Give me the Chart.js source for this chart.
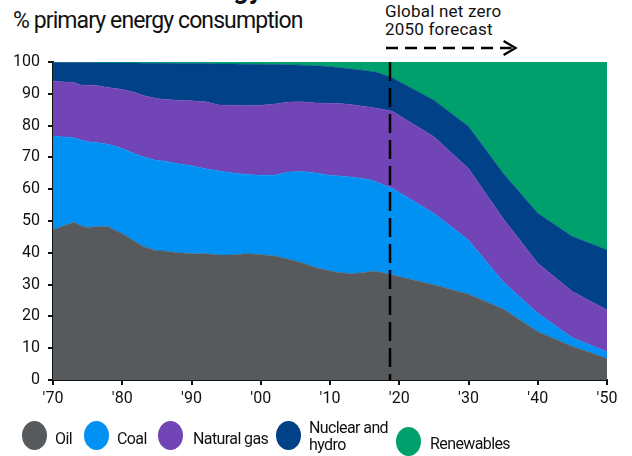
<!DOCTYPE html>
<html>
<head>
<meta charset="utf-8">
<script src="https://cdn.jsdelivr.net/npm/chart.js@4.4.0/dist/chart.umd.min.js"></script>
<style>
  body { margin: 0; width: 632px; height: 456px; overflow: hidden; background: #fff; position: relative;
         font-family: Roboto, sans-serif; color: #111; }
  #chart { position: absolute; left: 0; top: 0; }
  .title { position: absolute; left: 95px; top: -27px; font-weight: bold; font-size: 27px; white-space: nowrap; }
  .sub { position: absolute; left: 13px; top: 7px; font-size: 23px; white-space: nowrap; letter-spacing: -0.9px; }
  .note { position: absolute; left: 385px; top: 2px; font-size: 17px; line-height: 18px; white-space: nowrap; letter-spacing: 0.2px; }
  .leg { position: absolute; font-size: 16px; line-height: 17px; white-space: nowrap; letter-spacing: -0.6px; }
  .dot { position: absolute; width: 25px; height: 29px; border-radius: 50%; }
</style>
</head>
<body>
<div class="title">Global energy</div>
<div class="sub">% primary energy consumption</div>
<div class="note">Global net zero<br>2050 forecast</div>
<canvas id="chart" width="632" height="456"></canvas>
<div id="legend"></div>
<script>
// años (histórico anual aproximado + previsión cada 5 años)
const years = [1970, 1971, 1973, 1974, 1975, 1976, 1978, 1979, 1980, 1982, 1983, 1985, 1986, 1988, 1990,
  1992, 1994, 1996, 1998, 2000, 2002, 2004, 2006, 2008, 2010, 2011, 2013, 2015, 2016, 2017, 2019,
  2025, 2030, 2035, 2040, 2045, 2050];

// % del consumo de energía primaria
const oil = [47.2, 48.0, 49.6, 48.5, 47.9, 48.2, 48.2, 47.0, 46.0, 43.3, 42.0, 40.6, 40.6, 40.0, 39.7,
  39.7, 39.3, 39.3, 39.7, 39.4, 39.0, 38.0, 36.8, 35.3, 34.3, 33.9, 33.4, 33.8, 34.2, 34.0, 33.0,
  29.9, 27.0, 22.3, 15.2, 10.5, 6.8];
const coal = [29.6, 28.5, 26.6, 27.0, 27.0, 26.6, 25.9, 26.5, 26.8, 27.7, 28.2, 28.4, 28.3, 28.0, 27.7,
  26.7, 26.4, 25.8, 24.9, 25.0, 25.4, 27.4, 28.8, 29.8, 30.0, 30.3, 30.4, 29.5, 28.6, 28.0, 27.3,
  22.5, 17.0, 8.6, 5.8, 2.8, 2.1];
const gas = [17.2, 17.3, 17.4, 17.3, 17.8, 17.9, 17.9, 18.2, 18.6, 19.3, 19.3, 19.5, 19.4, 20.0, 20.4,
  21.1, 20.8, 21.3, 21.7, 22.0, 22.4, 22.0, 21.9, 22.0, 22.7, 22.8, 22.8, 22.7, 22.9, 23.4, 24.2,
  24.1, 22.5, 19.9, 15.7, 14.5, 13.1];
const nuclearHydro = [5.8, 6.0, 6.2, 7.0, 7.1, 7.1, 7.7, 8.0, 8.3, 9.4, 10.1, 11.1, 11.3, 11.5, 11.7,
  12.0, 12.9, 13.0, 13.0, 12.9, 12.4, 11.7, 11.5, 11.7, 11.5, 11.3, 11.2, 11.3, 11.3, 11.2, 10.5,
  11.5, 13.2, 14.2, 15.7, 17.3, 18.9];
const renewables = [0.2, 0.2, 0.2, 0.2, 0.2, 0.2, 0.3, 0.3, 0.3, 0.3, 0.4, 0.4, 0.4, 0.5, 0.5,
  0.5, 0.6, 0.6, 0.7, 0.7, 0.8, 0.9, 1.0, 1.2, 1.5, 1.7, 2.2, 2.7, 3.0, 3.4, 5.0,
  12.0, 20.3, 35.0, 47.6, 54.9, 59.1];

const yTicks = [0, 10, 20, 30, 40, 50, 60, 70, 80, 90, 100];
const xTicks = [1970, 1980, 1990, 2000, 2010, 2020, 2030, 2040, 2050];
const forecastYear = 2018.6;

const series = [
  { label: 'Oil', data: oil, color: '#575a5d' },
  { label: 'Coal', data: coal, color: '#0091f2' },
  { label: 'Natural gas', data: gas, color: '#7145b6' },
  { label: 'Nuclear and hydro', data: nuclearHydro, color: '#004187' },
  { label: 'Renewables', data: renewables, color: '#00a06c' }
];

const FONT = 'Roboto, sans-serif';

// línea discontinua de previsión y flecha
const forecastPlugin = {
  id: 'forecastPlugin',
  afterDatasetsDraw(chart) {
    const { ctx, chartArea, scales: { x } } = chart;
    const px = Math.round(x.getPixelForValue(forecastYear));
    ctx.save();
    ctx.strokeStyle = '#000';
    ctx.lineWidth = 2.5;
    ctx.setLineDash([19, 7]);
    ctx.beginPath();
    ctx.moveTo(px, chartArea.top);
    ctx.lineTo(px, chartArea.bottom);
    ctx.stroke();

    const ay = chartArea.top - 14;
    const tip = x.getPixelForValue(2036.8);
    ctx.setLineDash([12, 7]);
    ctx.lineWidth = 2.5;
    ctx.beginPath();
    ctx.moveTo(px - 4, ay);
    ctx.lineTo(tip - 4, ay);
    ctx.stroke();
    ctx.setLineDash([]);
    ctx.lineWidth = 2.2;
    ctx.beginPath();
    ctx.moveTo(tip - 12, ay - 7);
    ctx.lineTo(tip, ay);
    ctx.lineTo(tip - 12, ay + 7);
    ctx.stroke();
    ctx.restore();
  }
};

const ctx = document.getElementById('chart').getContext('2d');
const chart = new Chart(ctx, {
  type: 'line',
  data: {
    datasets: series.map((s, i) => ({
      label: s.label,
      data: s.data.map((v, j) => ({ x: years[j], y: v })),
      backgroundColor: s.color,
      borderColor: s.color,
      borderWidth: 0.5,
      pointRadius: 0,
      fill: i === 0 ? 'origin' : '-1'
    }))
  },
  options: {
    responsive: false,
    animation: false,
    layout: { padding: { left: 0, right: 25, top: 62, bottom: 46 } },
    plugins: { legend: { display: false }, tooltip: { enabled: false } },
    elements: { line: { tension: 0 } },
    scales: {
      x: {
        type: 'linear',
        min: 1970,
        max: 2050,
        afterBuildTicks: s => { s.ticks = xTicks.map(v => ({ value: v })); },
        afterFit: s => { s.height = 30; },
        ticks: {
          callback: v => "'" + String(v).slice(2),
          color: '#111',
          font: { family: FONT, size: 16 },
          padding: 4,
          maxRotation: 0
        },
        grid: { drawOnChartArea: false, tickLength: 5, color: '#111', lineWidth: 2 },
        border: { color: '#111', width: 2 }
      },
      y: {
        stacked: true,
        min: 0,
        max: 100,
        afterBuildTicks: s => { s.ticks = yTicks.map(v => ({ value: v })); },
        afterFit: s => { s.width = 53; },
        ticks: {
          color: '#111',
          font: { family: FONT, size: 16 },
          padding: 8
        },
        grid: { drawOnChartArea: false, tickLength: 5, color: '#111', lineWidth: 2 },
        border: { color: '#111', width: 2 }
      }
    }
  },
  plugins: [forecastPlugin]
});

// leyenda en HTML
const legendPos = [
  { dot: [22, 421], text: [55, 430] },
  { dot: [84, 421], text: [117, 430] },
  { dot: [158, 421], text: [193, 430] },
  { dot: [276, 421], text: [309, 419] },
  { dot: [396, 427], text: [430, 435] }
];
const legend = document.getElementById('legend');
series.forEach((s, i) => {
  const p = legendPos[i];
  const d = document.createElement('div');
  d.className = 'dot';
  d.style.left = p.dot[0] + 'px';
  d.style.top = p.dot[1] + 'px';
  d.style.background = s.color;
  legend.appendChild(d);
  const t = document.createElement('div');
  t.className = 'leg';
  t.style.left = p.text[0] + 'px';
  t.style.top = p.text[1] + 'px';
  t.innerHTML = s.label === 'Nuclear and hydro' ? 'Nuclear and<br>hydro' : s.label;
  legend.appendChild(t);
});
</script>
</body>
</html>
